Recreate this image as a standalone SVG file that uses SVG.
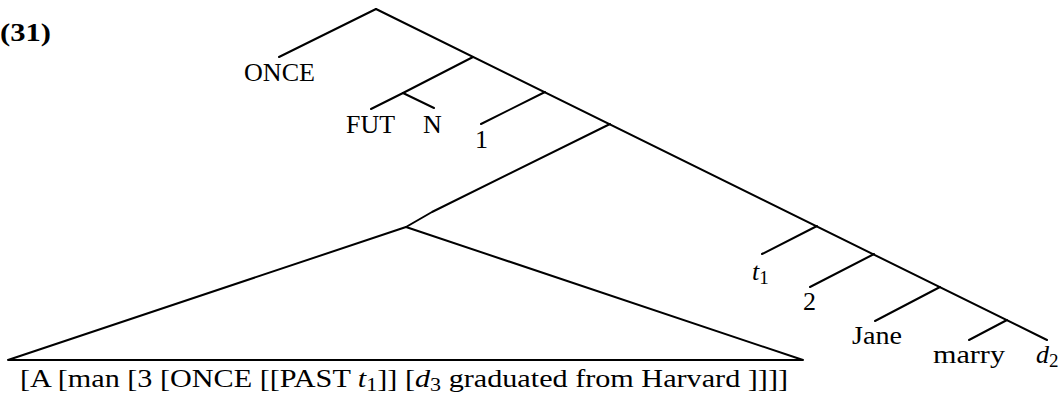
<svg xmlns="http://www.w3.org/2000/svg" width="1063" height="394" viewBox="0 0 1063 394">
<style>
.e{stroke:#000;stroke-width:2;fill:none;stroke-linecap:round;stroke-linejoin:round}
text{font-family:"Liberation Serif","DejaVu Serif",serif;font-size:26px;fill:#000}
.it{font-style:italic}
.sub{font-size:19px}
</style>
<rect width="1063" height="394" fill="#fff"/>
<g id="connectors">
<line class="e" x1="376" y1="9" x2="1047" y2="340"/>
<line class="e" x1="376" y1="9" x2="279" y2="57"/>
<line class="e" x1="473" y1="57" x2="403" y2="93"/>
<line class="e" x1="403" y1="93" x2="371" y2="109"/>
<line class="e" x1="403" y1="93" x2="434" y2="108"/>
<line class="e" x1="545" y1="92" x2="481" y2="124"/>
<polyline class="e" points="610,124 432,212 406,227"/>
<polygon class="e" points="406,227 8,360 803,360"/>
<line class="e" x1="817" y1="226" x2="762" y2="254"/>
<line class="e" x1="874" y1="254" x2="810" y2="287"/>
<line class="e" x1="940" y1="287" x2="875" y2="321"/>
<line class="e" x1="1007" y1="320" x2="969" y2="340"/>
</g>
<g id="label-31"><text x="0" y="41" font-weight="bold" textLength="51" lengthAdjust="spacingAndGlyphs">(31)</text></g>
<g id="node-once"><text x="244" y="81" textLength="71" lengthAdjust="spacingAndGlyphs">ONCE</text></g>
<g id="node-fut"><text x="346" y="133" textLength="49" lengthAdjust="spacingAndGlyphs">FUT</text></g>
<g id="node-n"><text x="423" y="133">N</text></g>
<g id="node-1"><text x="475" y="148">1</text></g>
<g id="node-t1"><text x="752" y="280"><tspan class="it">t</tspan><tspan class="sub" dy="4">1</tspan></text></g>
<g id="node-2"><text x="803" y="310">2</text></g>
<g id="node-jane"><text x="852" y="344" textLength="50" lengthAdjust="spacingAndGlyphs">Jane</text></g>
<g id="node-marry"><text x="933" y="363" textLength="72" lengthAdjust="spacingAndGlyphs">marry</text></g>
<g id="node-d2"><text x="1036" y="363"><tspan class="it">d</tspan><tspan class="sub" dy="4">2</tspan></text></g>
<g id="node-triangle"><text x="20" y="387" textLength="768" lengthAdjust="spacingAndGlyphs">[A [man [3 [ONCE [[PAST <tspan class="it">t</tspan><tspan class="sub" dy="4">1</tspan><tspan dy="-4">]] [</tspan><tspan class="it">d</tspan><tspan class="sub" dy="4">3</tspan><tspan dy="-4"> graduated from Harvard ]]]]</tspan></text></g>
</svg>
